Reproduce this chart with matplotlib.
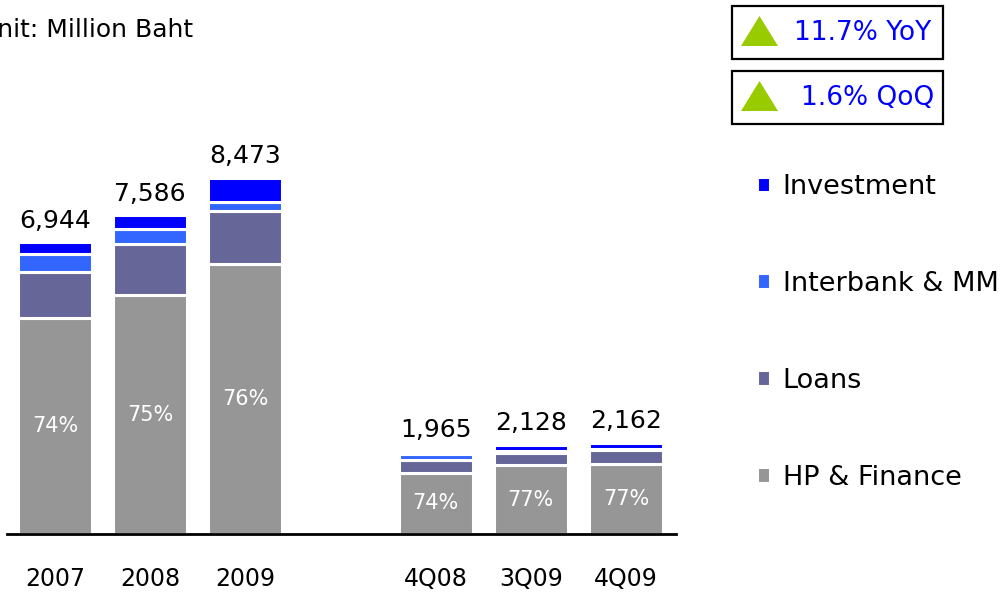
import matplotlib
matplotlib.use("Agg")
import matplotlib.pyplot as plt
from matplotlib.patches import Rectangle, Polygon

plt.rcParams['font.family'] = ['DejaVu Sans']

# revenue breakdown, million baht
periods = ['2007', '2008', '2009', '4Q08', '3Q09', '4Q09']
xpos = [0, 1, 2, 4, 5, 6]
totals = [6944, 7586, 8473, 1965, 2128, 2162]
hp_finance = [5139, 5690, 6439, 1454, 1639, 1665]
loans = [1090, 1209, 1250, 300, 290, 345]
interbank = [440, 372, 220, 150, 50, 12]
investment = [275, 315, 564, 61, 149, 140]
hp_share = ['74%', '75%', '76%', '74%', '77%', '77%']

series = [
    ('HP & Finance', hp_finance, '#969696'),
    ('Loans', loans, '#666699'),
    ('Interbank & MM', interbank, '#3366ff'),
    ('Investment', investment, '#0000ff'),
]

W, H = 1007, 596
fig = plt.figure(figsize=(W / 100, H / 100), dpi=100)


def px(x, y):
    return x / W, 1 - y / H


ax = fig.add_axes([7 / W, (H - 534) / H, 669 / W, 434 / H])
ax.set_xlim(-0.504, 6.525)
ax.set_ylim(0, 10333)

bottom = [0] * len(xpos)
handles = []
for name, vals, col in series:
    bars = ax.bar(xpos, vals, width=0.78, bottom=bottom, color=col,
                  edgecolor='white', linewidth=2.2, label=name)
    handles.append(bars)
    bottom = [b + v for b, v in zip(bottom, vals)]

for x, tot, hp, pct in zip(xpos, totals, hp_finance, hp_share):
    ax.annotate(f'{tot:,}', (x, tot), xytext=(0, 7), textcoords='offset points',
                ha='center', va='bottom', fontsize=18, color='black')
    ax.text(x, hp / 2, pct, ha='center', va='center', fontsize=15, color='white')

for s in ['top', 'right', 'left']:
    ax.spines[s].set_visible(False)
ax.spines['bottom'].set_linewidth(2)
ax.set_yticks([])
ax.set_xticks(xpos)
ax.set_xticklabels(periods, fontsize=17)
ax.tick_params(axis='x', length=0, pad=24)

# legend, top series first
fig.legend(handles[::-1], [s[0] for s in series][::-1],
           loc='upper left', bbox_to_anchor=px(746, 163), frameon=False,
           fontsize=19.5, handlelength=0.5, handleheight=0.5, handletextpad=0.45,
           labelspacing=2.62, borderaxespad=0)

fig.text(*px(193, 30), 'Unit: Million Baht', ha='right', va='center', fontsize=18)

# growth boxes
for y0, txt, tx in [(6, '11.7% YoY', 931), (71, '1.6% QoQ', 934)]:
    fig.patches.append(Rectangle(px(732, y0 + 53), 211 / W, 53 / H,
                                 transform=fig.transFigure, fill=False,
                                 edgecolor='black', linewidth=1.6))
    fig.patches.append(Polygon([px(741, y0 + 40), px(778, y0 + 40), px(759.5, y0 + 10)],
                               closed=True, transform=fig.transFigure,
                               facecolor='#99cc00', edgecolor='none'))
    fig.text(*px(tx, y0 + 27), txt, ha='right', va='center', fontsize=19, color='#0000ff')

fig.savefig('out.png', dpi=100)
